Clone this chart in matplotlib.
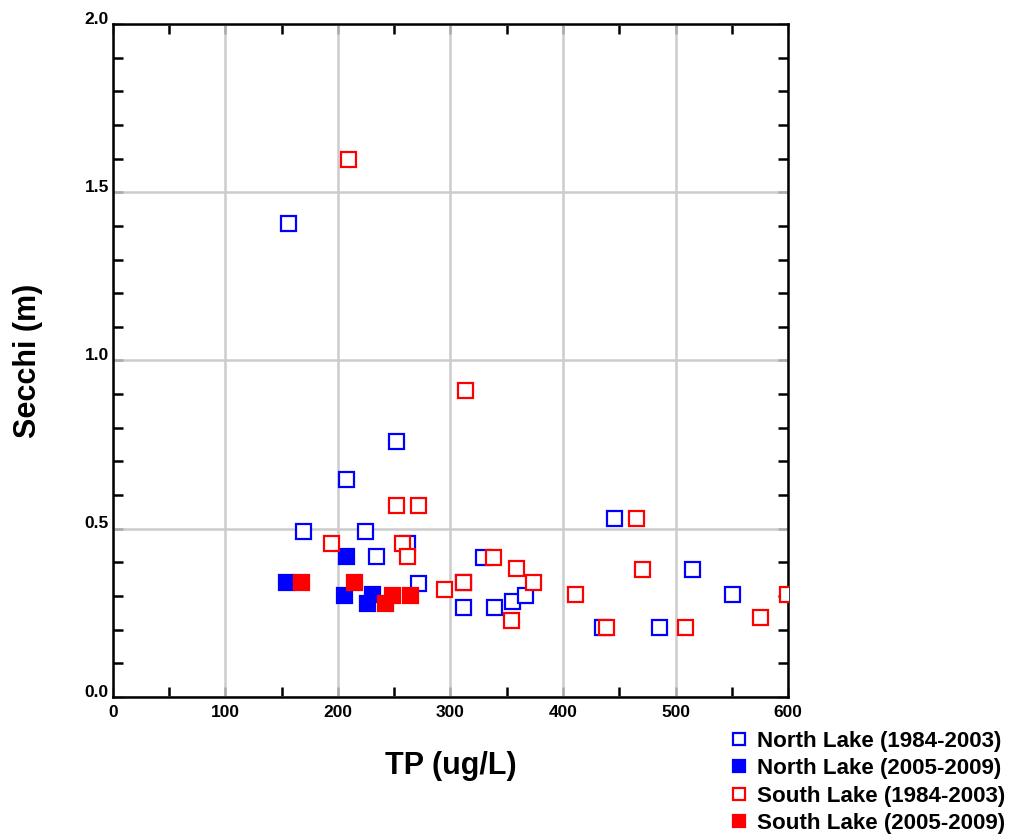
import matplotlib
matplotlib.use("Agg")
import matplotlib.pyplot as plt
from matplotlib.ticker import MultipleLocator
from matplotlib.transforms import ScaledTranslation

plt.rcParams['font.family'] = ['Liberation Sans', 'DejaVu Sans']

# North Lake (1984-2003)
north_old_tp = [156, 169, 207, 224, 234, 252, 261, 271, 311, 311, 329, 339, 355, 366, 435, 445, 485, 515, 550]
north_old_sd = [1.41, 0.494, 0.647, 0.494, 0.419, 0.762, 0.459, 0.338, 0.343, 0.267, 0.417, 0.267, 0.286, 0.303,
                0.209, 0.533, 0.209, 0.381, 0.305]
# North Lake (2005-2009)
north_new_tp = [154, 207, 205, 226, 230]
north_new_sd = [0.342, 0.419, 0.303, 0.280, 0.305]
# South Lake (1984-2003)
south_old_tp = [194, 209, 252, 271, 257, 261, 294, 311, 313, 338, 358, 373, 354, 411, 438, 465, 470, 508, 575, 599]
south_old_sd = [0.457, 1.60, 0.571, 0.571, 0.459, 0.419, 0.320, 0.343, 0.912, 0.417, 0.382, 0.343, 0.229, 0.305,
                0.209, 0.533, 0.381, 0.209, 0.237, 0.305]
# South Lake (2005-2009)
south_new_tp = [167, 214, 242, 248, 264]
south_new_sd = [0.342, 0.342, 0.280, 0.303, 0.303]

fig = plt.figure(figsize=(10.16, 8.38), dpi=100)
ax = fig.add_axes([0.1112, 0.1683, 0.6644, 0.8031])

ms = 10.8
mew = 1.6
ax.plot(north_old_tp, north_old_sd, 's', ms=ms, mfc='white', mec='#0000ff', mew=mew,
        label='North Lake (1984-2003)', zorder=3)
ax.plot(north_new_tp, north_new_sd, 's', ms=ms, mfc='#0000ff', mec='#0000ff', mew=mew,
        label='North Lake (2005-2009)', zorder=3)
ax.plot(south_old_tp, south_old_sd, 's', ms=ms, mfc='white', mec='#ff0000', mew=mew,
        label='South Lake (1984-2003)', zorder=3)
ax.plot(south_new_tp, south_new_sd, 's', ms=ms, mfc='#ff0000', mec='#ff0000', mew=mew,
        label='South Lake (2005-2009)', zorder=3)

ax.set_xlim(0, 600)
ax.set_ylim(0, 2.0)
ax.xaxis.set_major_locator(MultipleLocator(100))
ax.xaxis.set_minor_locator(MultipleLocator(50))
ax.yaxis.set_major_locator(MultipleLocator(0.5))
ax.yaxis.set_minor_locator(MultipleLocator(0.1))
ax.yaxis.set_major_formatter(plt.FormatStrFormatter('%.1f'))

ax.grid(True, which='major', color='#cccccc', linewidth=1.8, zorder=0)
ax.set_axisbelow(True)
for s in ax.spines.values():
    s.set_linewidth(1.8)
    s.set_color('black')

ax.tick_params(which='both', direction='in', top=True, right=True, width=1.8)
ax.tick_params(which='major', length=7, color='#aaaaaa', labelsize=12.5)
ax.tick_params(which='minor', length=7, color='black')
ax.tick_params(axis='x', which='major', pad=6)
ax.tick_params(axis='y', which='major', pad=3)
for lab in ax.get_xticklabels() + ax.get_yticklabels():
    lab.set_fontweight('bold')
off = ScaledTranslation(0, 4.5 / 72, fig.dpi_scale_trans)
for lab in ax.get_yticklabels():
    lab.set_transform(lab.get_transform() + off)

ax.set_xlabel('TP (ug/L)', fontsize=22, fontweight='bold', labelpad=22)
ax.set_ylabel('Secchi (m)', fontsize=22, fontweight='bold', labelpad=30)

fig.legend(loc='upper left', bbox_to_anchor=(0.720, 0.128), frameon=False,
           prop={'weight': 'bold', 'size': 16.1}, handlelength=0.7,
           handletextpad=0.45, labelspacing=0.29, borderaxespad=0, borderpad=0,
           markerscale=0.75)

fig.savefig('out.png', dpi=100)
